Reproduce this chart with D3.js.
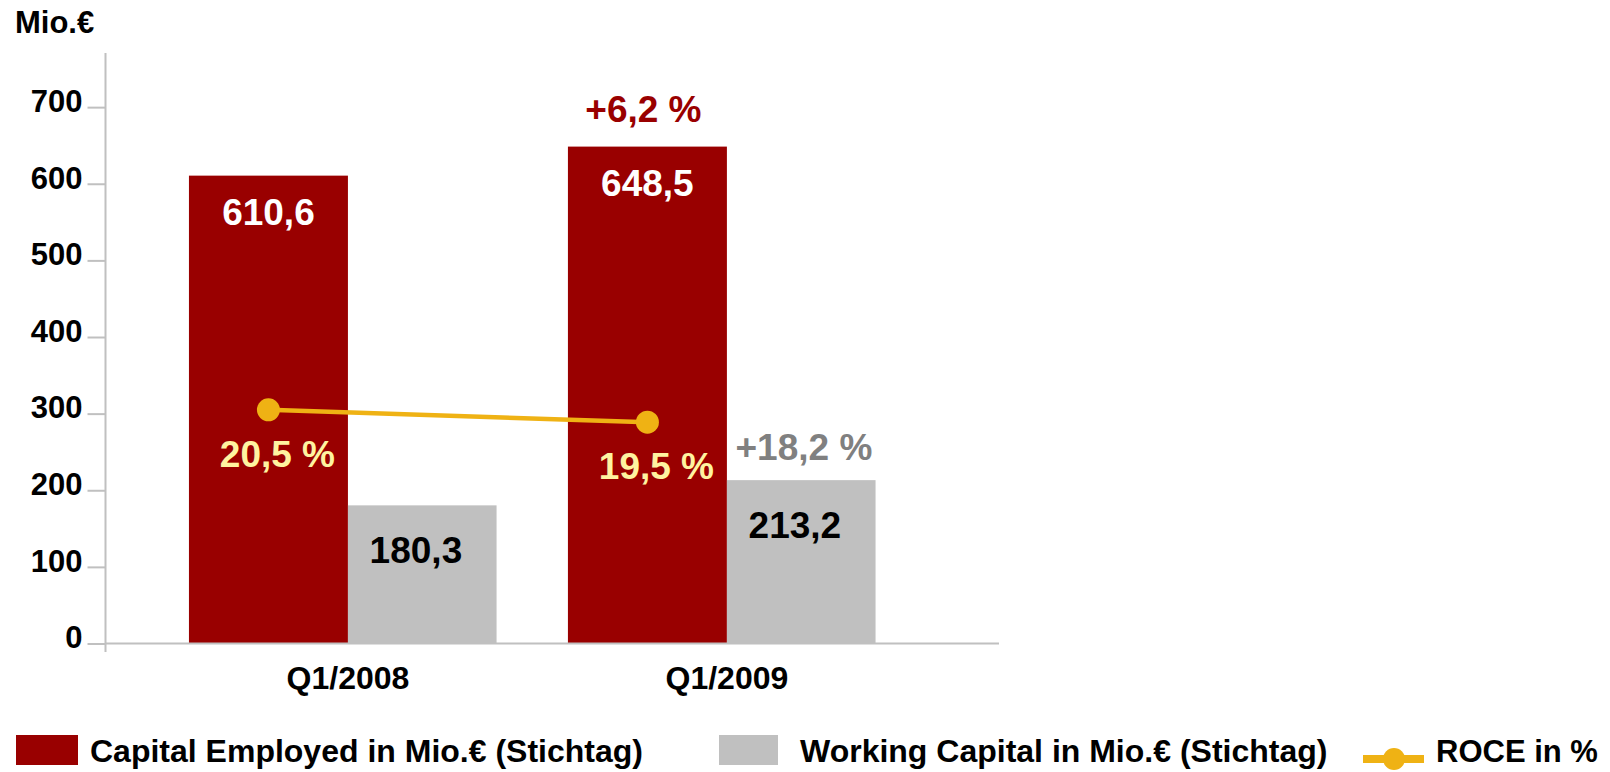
<!doctype html>
<html lang="de">
<head>
  <meta charset="UTF-8">
  <title>Capital Employed / Working Capital / ROCE</title>
  <script src="https://cdn.jsdelivr.net/npm/d3@7"></script>
  <style>
    body { margin: 0; background: #fff; }
    svg { display: block; }
    text { font-family: "Liberation Sans", Arial, sans-serif; font-weight: bold; }
  </style>
</head>
<body>
<svg width="1610" height="772" id="chart"></svg>
<script>
  // data
  var categories = ['Q1/2008', 'Q1/2009'];
  var capitalEmployed = [610.6, 648.5];
  var workingCapital = [180.3, 213.2];
  var roce = [20.5, 19.5];
  var yTicks = [0, 100, 200, 300, 400, 500, 600, 700];
  var growthLabels = ['+6,2 %', '+18,2 %'];   // CE growth, WC growth (Q1/2009)
  var legendLabels = ['Capital Employed in Mio.€ (Stichtag)', 'Working Capital in Mio.€ (Stichtag)', 'ROCE in %'];

  var RED = '#990000', GREY = '#c0c0c0', GOLD = '#efb214', AXIS = '#c0c0c0';

  function fmt(v) { return v.toFixed(1).replace('.', ','); }

  var svg = d3.select('#chart');

  var x = d3.scaleBand().domain(categories).range([105, 999])
    .paddingInner(0.161).paddingOuter(0.26).align(0.426);
  var xs = d3.scaleBand().domain(['ce', 'wc']).range([0, x.bandwidth()]);
  var y = d3.scaleLinear().domain([0, 770]).range([643.5, 53.5]);
  // ROCE sits on its own hidden percent axis
  var y2 = d3.scaleLinear().domain([0, 50]).range([664, 44]);

  var rows = categories.map(function (c, i) {
    return {cat: c, ce: capitalEmployed[i], wc: workingCapital[i], roce: roce[i]};
  });

  // y axis
  var yAxis = svg.append('g').attr('transform', 'translate(105.5,0)')
    .call(d3.axisLeft(y).tickValues(yTicks).tickSize(18).tickPadding(5).tickFormat(d3.format('d')));
  yAxis.select('.domain').remove();
  yAxis.selectAll('.tick line').attr('stroke', AXIS).attr('stroke-width', 2);
  yAxis.selectAll('.tick text').attr('font-size', 31).attr('fill', '#000').attr('dy', '0.14em');
  svg.append('line').attr('x1', 105.5).attr('x2', 105.5).attr('y1', 53).attr('y2', 652)
    .attr('stroke', AXIS).attr('stroke-width', 2);

  svg.append('text').attr('x', 15).attr('y', 33).attr('font-size', 31).text('Mio.€');

  // bars
  var grp = svg.selectAll('.cat').data(rows).enter().append('g')
    .attr('transform', function (d) { return 'translate(' + x(d.cat) + ',0)'; });

  grp.append('rect')
    .attr('x', xs('ce')).attr('width', xs.bandwidth())
    .attr('y', function (d) { return y(d.ce); })
    .attr('height', function (d) { return y(0) - y(d.ce); })
    .attr('fill', RED);

  grp.append('rect')
    .attr('x', xs('wc')).attr('width', xs.bandwidth() * 0.935)
    .attr('y', function (d) { return y(d.wc); })
    .attr('height', function (d) { return y(0) - y(d.wc); })
    .attr('fill', GREY);

  grp.append('text')
    .attr('x', xs('ce') + xs.bandwidth() / 2)
    .attr('y', function (d) { return y(d.ce) + 49; })
    .attr('text-anchor', 'middle').attr('font-size', 37).attr('fill', '#fff')
    .text(function (d) { return fmt(d.ce); });

  grp.append('text')
    .attr('x', xs('wc') + 68)
    .attr('y', function (d) { return y(d.wc) + 58; })
    .attr('text-anchor', 'middle').attr('font-size', 37).attr('fill', '#000')
    .text(function (d) { return fmt(d.wc); });

  // x axis
  svg.append('line').attr('x1', 105).attr('x2', 999).attr('y1', 643.5).attr('y2', 643.5)
    .attr('stroke', AXIS).attr('stroke-width', 2);
  svg.selectAll('.cat-label').data(categories).enter().append('text')
    .attr('x', function (d) { return x(d) + x.bandwidth() / 2; })
    .attr('y', 689).attr('text-anchor', 'middle').attr('font-size', 32)
    .text(function (d) { return d; });

  // growth labels for the latest quarter
  var last = rows[rows.length - 1];
  svg.append('text')
    .attr('x', x(last.cat) + xs('ce') + xs.bandwidth() / 2 - 4)
    .attr('y', y(last.ce) - 25)
    .attr('text-anchor', 'middle').attr('font-size', 37).attr('fill', RED)
    .text(growthLabels[0]);
  svg.append('text')
    .attr('x', x(last.cat) + xs('wc') + 77)
    .attr('y', y(last.wc) - 20)
    .attr('text-anchor', 'middle').attr('font-size', 37).attr('fill', '#808080')
    .text(growthLabels[1]);

  // ROCE line
  var px = function (d) { return x(d.cat) + xs('ce') + xs.bandwidth() / 2; };
  svg.append('path').datum(rows)
    .attr('d', d3.line().x(px).y(function (d) { return y2(d.roce); }))
    .attr('fill', 'none').attr('stroke', GOLD).attr('stroke-width', 4.5);
  svg.selectAll('.roce-dot').data(rows).enter().append('circle')
    .attr('cx', px).attr('cy', function (d) { return y2(d.roce); })
    .attr('r', 11.5).attr('fill', GOLD);
  svg.selectAll('.roce-label').data(rows).enter().append('text')
    .attr('x', function (d) { return px(d) + 9; })
    .attr('y', function (d) { return y2(d.roce) + 57; })
    .attr('text-anchor', 'middle').attr('font-size', 37).attr('fill', '#fff3a0')
    .text(function (d) { return fmt(d.roce) + ' %'; });

  // legend
  var leg = svg.append('g');
  leg.append('rect').attr('x', 16).attr('y', 735).attr('width', 62).attr('height', 30).attr('fill', RED);
  leg.append('rect').attr('x', 719).attr('y', 735).attr('width', 59).attr('height', 30).attr('fill', GREY);
  leg.append('line').attr('x1', 1363).attr('x2', 1424).attr('y1', 759).attr('y2', 759)
    .attr('stroke', GOLD).attr('stroke-width', 8);
  leg.append('circle').attr('cx', 1394).attr('cy', 759).attr('r', 11).attr('fill', GOLD);

  var legX = [90, 800, 1436];
  leg.selectAll('.leg-text').data(legendLabels).enter().append('text')
    .attr('x', function (d, i) { return legX[i]; })
    .attr('y', 762).attr('font-size', function (d, i) { return i === 2 ? 31 : 32; })
    .text(function (d) { return d; });
</script>
</body>
</html>
